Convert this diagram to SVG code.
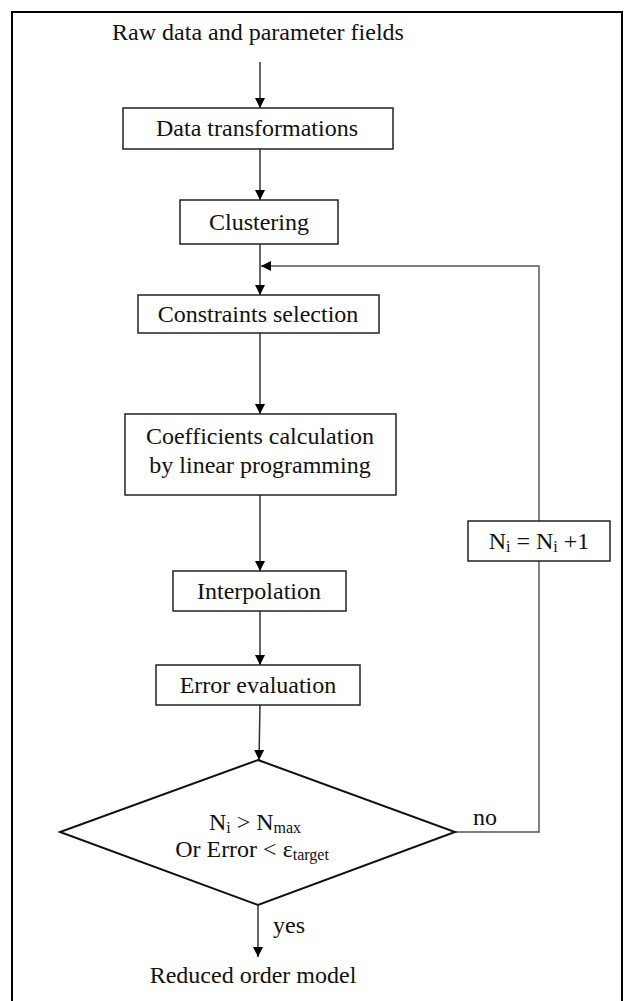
<svg xmlns="http://www.w3.org/2000/svg" width="624" height="1001" viewBox="0 0 624 1001">
<style>
text{font-family:"Liberation Serif","Times New Roman","DejaVu Serif",serif;font-size:24px;fill:#111;}
.t{text-anchor:middle;}
.box{fill:#fff;stroke:#222;stroke-width:1.5;}
.ln{fill:none;stroke:#333;stroke-width:1.5;}
.loop{fill:none;stroke:#555;stroke-width:1.5;}
.sub{font-size:16px;}
</style>
<defs>
<marker id="ah" viewBox="0 0 10 10" refX="10" refY="5" markerWidth="10" markerHeight="12" markerUnits="userSpaceOnUse" orient="auto">
<path d="M0,0 L10,5 L0,10 Z" fill="#000"/>
</marker>
</defs>
<rect x="0" y="0" width="624" height="1001" fill="#fff"/>
<rect x="12" y="12" width="610" height="1000" fill="none" stroke="#000" stroke-width="2"/>
<g id="connectors">
<line class="ln" x1="260" y1="62" x2="260" y2="108" marker-end="url(#ah)"/>
<line class="ln" x1="260" y1="149" x2="260" y2="200" marker-end="url(#ah)"/>
<line class="ln" x1="260" y1="244" x2="260" y2="295" marker-end="url(#ah)"/>
<line class="ln" x1="260" y1="333" x2="260" y2="414" marker-end="url(#ah)"/>
<line class="ln" x1="260" y1="495" x2="260" y2="571" marker-end="url(#ah)"/>
<line class="ln" x1="260" y1="611" x2="260" y2="665" marker-end="url(#ah)"/>
<line class="ln" x1="260" y1="705" x2="259" y2="760" marker-end="url(#ah)"/>
<line class="ln" x1="258" y1="905" x2="258" y2="957" marker-end="url(#ah)"/>
<polyline class="loop" points="455,832 539,832 539,266 261,266" marker-end="url(#ah)"/>
</g>
<g id="title"><text class="t" x="258" y="40">Raw data and parameter fields</text></g>
<g id="n1"><rect class="box" x="123" y="108" width="270" height="41"/><text class="t" x="257" y="136">Data transformations</text></g>
<g id="n2"><rect class="box" x="180" y="200" width="158" height="44"/><text class="t" x="259" y="230">Clustering</text></g>
<g id="n3"><rect class="box" x="138" y="295" width="241" height="38"/><text class="t" x="258" y="322">Constraints selection</text></g>
<g id="n4"><rect class="box" x="125" y="414" width="271" height="81"/><text class="t" x="260" y="444">Coefficients calculation</text><text class="t" x="260" y="473">by linear programming</text></g>
<g id="n5"><rect class="box" x="173" y="571" width="173" height="40"/><text class="t" x="259" y="599">Interpolation</text></g>
<g id="n6"><rect class="box" x="156" y="665" width="204" height="40"/><text class="t" x="258" y="693">Error evaluation</text></g>
<g id="n7"><polygon points="258,760 455,832 258,905 60,832" fill="#fff" stroke="#111" stroke-width="2"/>
<text class="t" x="255" y="830">N<tspan class="sub" dy="3">i</tspan><tspan dy="-3"> &gt; N</tspan><tspan class="sub" dy="3">max</tspan></text>
<text class="t" x="252" y="857">Or Error &lt; ε<tspan class="sub" dy="3">target</tspan></text></g>
<g id="n8"><rect class="box" x="468" y="521" width="142" height="40"/><text class="t" x="539" y="549">N<tspan class="sub" dy="3">i</tspan><tspan dy="-3"> = N</tspan><tspan class="sub" dy="3">i</tspan><tspan dy="-3"> +1</tspan></text></g>
<g id="labels">
<text x="473" y="825">no</text>
<text x="273" y="933">yes</text>
<text class="t" x="253" y="983">Reduced order model</text>
</g>
</svg>
